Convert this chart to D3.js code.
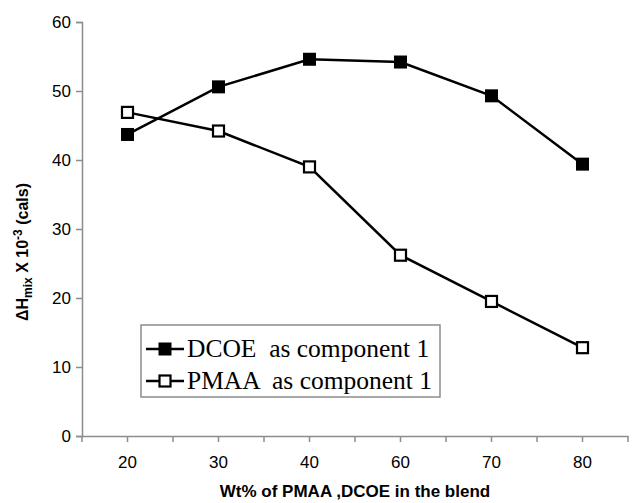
<!DOCTYPE html>
<html>
<head>
<meta charset="utf-8">
<script src="https://cdn.jsdelivr.net/npm/d3@7/dist/d3.min.js"></script>
<style>
body{margin:0;background:#fff;}
svg{display:block;}
</style>
</head>
<body>
<svg id="chart" width="633" height="503"></svg>
<script>
const categories = ["20","30","40","60","70","80"];
const dcoe = [43.7, 50.6, 54.6, 54.2, 49.3, 39.4];
const pmaa = [46.9, 44.2, 39.0, 26.2, 19.5, 12.8];
const yTicks = [0,10,20,30,40,50,60];
const legendLabels = ["DCOE  as component 1","PMAA  as component 1"];

const svg = d3.select("#chart");
const m = {left:82, right:5, top:22, bottom:67};
const W = 633, H = 503;
const x = d3.scaleBand().domain(categories).range([m.left, W - m.right]).paddingInner(0).paddingOuter(0);
const y = d3.scaleLinear().domain([0,60]).range([H - m.bottom, m.top]);
const cx = c => x(c) + x.bandwidth()/2;
const axisColor = "#8c8c8c";
const sans = "Liberation Sans, Arial, sans-serif";

// y axis
const yAxis = svg.append("g").attr("transform",`translate(${m.left},0)`)
  .call(d3.axisLeft(y).tickValues(yTicks).tickSize(6).tickPadding(5).tickFormat(d3.format("d")));
yAxis.select(".domain").attr("stroke",axisColor).attr("stroke-width",1.5);
yAxis.selectAll(".tick line").attr("stroke",axisColor).attr("stroke-width",1.5);
yAxis.selectAll("text").attr("font-family",sans).attr("font-size",17).attr("fill","#000");

// x axis
const xAxis = svg.append("g").attr("transform",`translate(0,${H - m.bottom})`)
  .call(d3.axisBottom(x).tickSize(0).tickPadding(20));
xAxis.select(".domain").attr("stroke",axisColor).attr("stroke-width",1.5);
xAxis.selectAll("text").attr("font-family",sans).attr("font-size",17).attr("fill","#000");
const tickPos = [];
categories.forEach(c => { tickPos.push(x(c)); tickPos.push(cx(c)); });
tickPos.push(x(categories[categories.length-1]) + x.bandwidth());
xAxis.selectAll(".xt").data(tickPos).enter().append("line")
  .attr("x1",d=>d).attr("x2",d=>d).attr("y1",0).attr("y2",6)
  .attr("stroke",axisColor).attr("stroke-width",1.5);

// lines
const line = d3.line().x((d,i)=>cx(categories[i])).y(d=>y(d));
svg.append("path").datum(dcoe).attr("d",line).attr("fill","none").attr("stroke","#000").attr("stroke-width",2.5);
svg.append("path").datum(pmaa).attr("d",line).attr("fill","none").attr("stroke","#000").attr("stroke-width",2.5);

// markers
svg.selectAll(".m1").data(dcoe).enter().append("rect")
  .attr("x",(d,i)=>cx(categories[i])-6.5).attr("y",d=>y(d)-6.5)
  .attr("width",13).attr("height",13).attr("fill","#000");
svg.selectAll(".m2").data(pmaa).enter().append("rect")
  .attr("x",(d,i)=>cx(categories[i])-5.5).attr("y",d=>y(d)-5.5)
  .attr("width",11).attr("height",11).attr("fill","#fff").attr("stroke","#000").attr("stroke-width",2.2);

// axis titles
svg.append("text").attr("x",(m.left + W - m.right)/2).attr("y",497)
  .attr("text-anchor","middle").attr("font-family",sans)
  .attr("font-weight","bold").attr("font-size",17).text("Wt% of PMAA ,DCOE in the blend");

const yt = svg.append("text").attr("transform",`translate(28,252) rotate(-90)`)
  .attr("text-anchor","middle").attr("font-family",sans)
  .attr("font-weight","bold").attr("font-size",16);
yt.append("tspan").text("ΔH");
yt.append("tspan").attr("font-size",12).attr("dy",4).text("mix");
yt.append("tspan").attr("dy",-4).text(" X 10");
yt.append("tspan").attr("font-size",12).attr("dy",-6).text("-3");
yt.append("tspan").attr("dy",6).text(" (cals)");

// legend
const lg = svg.append("g");
lg.append("rect").attr("x",141).attr("y",325).attr("width",299).attr("height",72)
  .attr("fill","#fff").attr("stroke",axisColor).attr("stroke-width",1.5);
const rows = [{y:349, filled:true},{y:381, filled:false}];
rows.forEach((r,i)=>{
  lg.append("line").attr("x1",146).attr("x2",184).attr("y1",r.y).attr("y2",r.y).attr("stroke","#000").attr("stroke-width",2.5);
  if (r.filled) lg.append("rect").attr("x",158.5).attr("y",r.y-6.5).attr("width",13).attr("height",13).attr("fill","#000");
  else lg.append("rect").attr("x",159.5).attr("y",r.y-5.5).attr("width",11).attr("height",11).attr("fill","#fff").attr("stroke","#000").attr("stroke-width",2.2);
  lg.append("text").attr("x",187).attr("y",r.y+8).attr("font-family","Liberation Serif, Times New Roman, serif")
    .attr("font-size",25.5).attr("xml:space","preserve").style("white-space","pre").text(legendLabels[i]);
});
</script>
</body>
</html>
